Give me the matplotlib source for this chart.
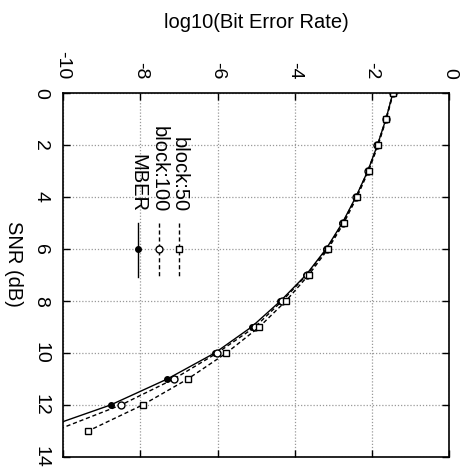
import matplotlib
matplotlib.use("Agg")
import matplotlib.pyplot as plt
from matplotlib.lines import Line2D

plt.rcParams['font.family'] = ['Liberation Sans', 'DejaVu Sans']
plt.rcParams['axes.unicode_minus'] = False

# Data: SNR (dB) and log10(BER)
snr_mber = [0, 1, 2, 3, 4, 5, 6, 7, 8, 9, 10, 11, 12]
ber_mber = [-1.46, -1.64, -1.86, -2.11, -2.42, -2.77, -3.19, -3.71, -4.37, -5.12, -6.07, -7.30, -8.77]
snr_b100 = [0, 1, 2, 3, 4, 5, 6, 7, 8, 9, 10, 11, 12]
ber_b100 = [-1.46, -1.64, -1.86, -2.11, -2.41, -2.76, -3.17, -3.69, -4.33, -5.03, -6.01, -7.13, -8.50]
snr_b50 = [0, 1, 2, 3, 4, 5, 6, 7, 8, 9, 10, 11, 12, 13]
ber_b50 = [-1.45, -1.63, -1.84, -2.09, -2.39, -2.73, -3.14, -3.64, -4.23, -4.92, -5.77, -6.77, -7.94, -9.35]
# curve end points where the lines leave the plot
mber_end = (12.64, -10.0)
b100_end = (12.87, -10.0)

labels = ["block:50", "block:100", "MBER"]
ber_ticks = [-10, -8, -6, -4, -2, 0]
snr_ticks = [0, 2, 4, 6, 8, 10, 12, 14]

W, H = 464, 472
fig = plt.figure(figsize=(W / 100, H / 100), dpi=100)
ax = fig.add_axes([63 / W, 1 - 457 / H, (449.3 - 63) / W, (457 - 93) / H])

FS = 14.5
TFS = 14
lw = 1.0
dash = (0, (3, 2))

ax.plot(ber_mber + [mber_end[1]], snr_mber + [mber_end[0]], color='black', lw=lw)
ax.plot(ber_mber, snr_mber, ls='none', marker='o', ms=4, color='black')
ax.plot(ber_b100 + [b100_end[1]], snr_b100 + [b100_end[0]], color='black', lw=lw, ls=dash)
ax.plot(ber_b100, snr_b100, ls='none', marker='o', ms=5, mfc='white', mec='black', mew=1)
ax.plot(ber_b50, snr_b50, color='black', lw=lw, ls=dash, marker='s', ms=5, mfc='white', mec='black', mew=1)

ax.set_xlim(-10, 0)
ax.set_ylim(14, 0)
ax.set_xticks(ber_ticks)
ax.set_yticks(snr_ticks)
ax.xaxis.tick_top()
ax.tick_params(axis='both', direction='in', length=5, width=1, top=True, bottom=True, left=True, right=True,
               labelsize=TFS)
ax.tick_params(axis='x', pad=10)
ax.tick_params(axis='y', pad=10)
for t in ax.get_xticklabels():
    t.set_rotation(-90)
    t.set_va('bottom')
    t.set_ha('center')
for t in ax.get_yticklabels():
    t.set_rotation(-90)
    t.set_va('center')
    t.set_ha('right')
ax.grid(True, color='#999999', ls=(0, (1, 1.5)), lw=0.9)
for s in ax.spines.values():
    s.set_linewidth(1.2)

fig.text(256 / W, 1 - 22 / H, "log10(Bit Error Rate)", ha='center', va='center', fontsize=FS)
fig.text(13 / W, 1 - 264 / H, "SNR (dB)", ha='center', va='center', fontsize=FS, rotation=-90)

# Legend (rotated, drawn in figure pixel coords)
def fx(x):
    return x / W
def fy(y):
    return 1 - y / H

styles = [dict(ls=dash, marker='s', ms=5, mfc='white', mec='black'),
          dict(ls=dash, marker='o', ms=5, mfc='white', mec='black'),
          dict(ls='-', marker='o', ms=4, mfc='black', mec='black')]
xs = [179, 159, 138]
for lab, x, st in zip(labels, xs, styles):
    fig.text(fx(x), fy(212), lab, rotation=-90, rotation_mode='anchor', ha='right', va='center', fontsize=FS)
    fig.add_artist(Line2D([fx(x), fx(x)], [fy(223), fy(277)], color='black', lw=lw, ls=st['ls']))
    fig.add_artist(Line2D([fx(x)], [fy(249)], ls='none', marker=st['marker'], ms=st['ms'],
                          mfc=st['mfc'], mec=st['mec'], mew=1))

fig.savefig("out.png", dpi=100)
